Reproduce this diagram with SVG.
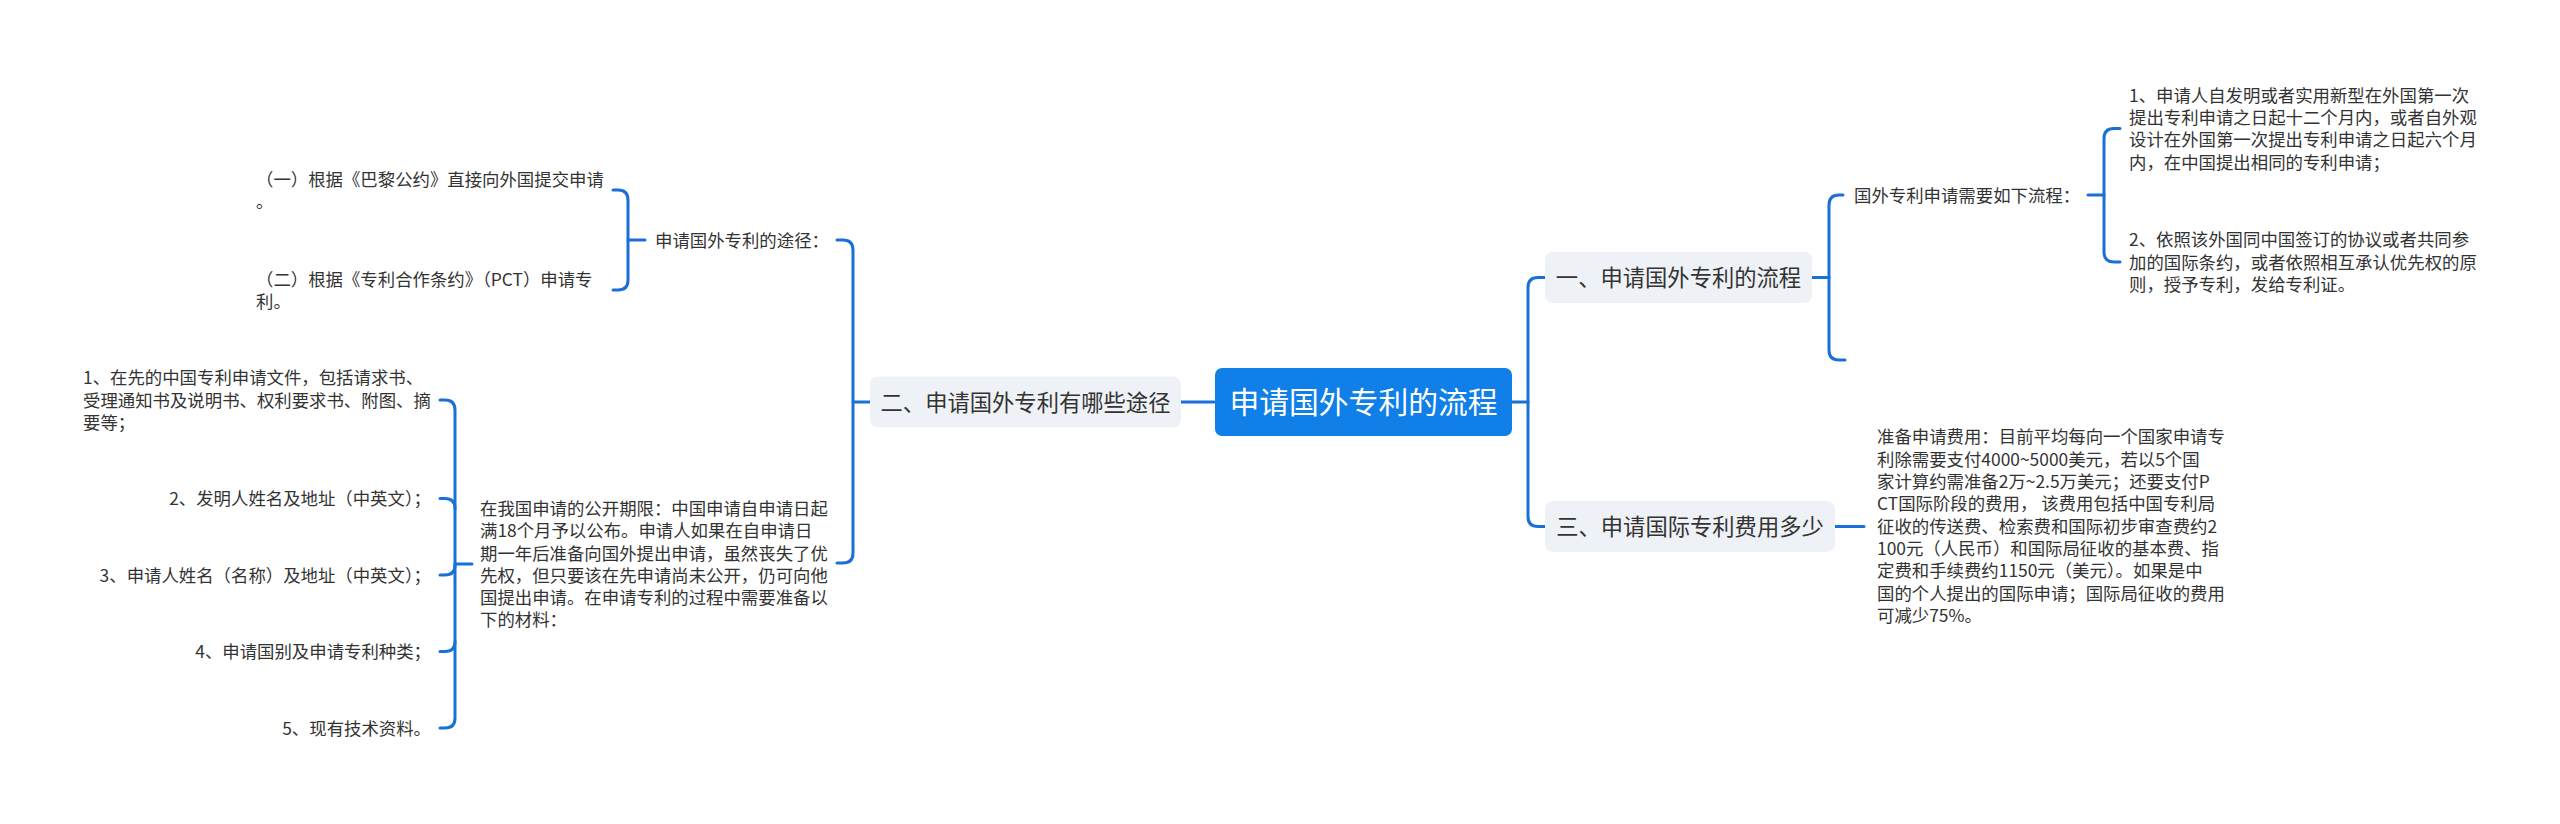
<svg xmlns="http://www.w3.org/2000/svg" width="2560" height="824" viewBox="0 0 2560 824">
<style>
text{font-family:"Noto Sans CJK SC","Microsoft YaHei",sans-serif;fill:#333333}
.root{font-size:29.8px;fill:#ffffff}
.br{font-size:22.3px}
.lf{font-size:17.4px}
.box{fill:#eef1f5}
.c{fill:none;stroke:#1a70d6;stroke-width:3;stroke-linecap:round;stroke-linejoin:round}
</style>
<rect width="2560" height="824" fill="#ffffff"/>
<g id="connectors">
<path class="c" d="M1512 402 H1528"/>
<path class="c" d="M1545 277.5 H1538 Q1528 277.5 1528 287.5 V516.5 Q1528 526.5 1538 526.5 H1545"/>
<path class="c" d="M1812 277.5 H1829"/>
<path class="c" d="M1843 195 H1839 Q1829 195 1829 205 V350 Q1829 360 1839 360 H1845"/>
<path class="c" d="M2088 195 H2104"/>
<path class="c" d="M2120 128.5 H2114 Q2104 128.5 2104 138.5 V252 Q2104 262 2114 262 H2120"/>
<path class="c" d="M1835 526.5 H1864"/>
<path class="c" d="M1214 402 H1181"/>
<path class="c" d="M870 402 H853"/>
<path class="c" d="M837 240 H843 Q853 240 853 250 V553 Q853 563 843 563 H837"/>
<path class="c" d="M645 240 H628"/>
<path class="c" d="M613 190 H618 Q628 190 628 200 V280 Q628 290 618 290 H613"/>
<path class="c" d="M472 564 H455"/>
<path class="c" d="M440 400 H445 Q455 400 455 410 V718 Q455 728 445 728 H440"/>
<path class="c" d="M440 498.5 H445 Q455 498.5 455 508.5"/>
<path class="c" d="M440 575 H445 Q455 575 455 565"/>
<path class="c" d="M440 651.5 H445 Q455 651.5 455 641.5"/>
</g>
<g id="root">
<rect x="1215" y="368" width="297" height="68" rx="7" fill="#1080e8"/>
<text class="root" x="1363.5" y="413" text-anchor="middle">申请国外专利的流程</text>
</g>
<g id="b1">
<rect class="box" x="1545" y="252" width="267" height="51" rx="8"/>
<text class="br" x="1678.5" y="286" text-anchor="middle">一、申请国外专利的流程</text>
</g>
<g id="b1-n1">
<text class="lf" x="1854" y="201.6">国外专利申请需要如下流程：</text>
</g>
<g id="b1-n1-l1">
<text class="lf" x="2129" y="101.7">1、申请人自发明或者实用新型在外国第一次</text>
<text class="lf" x="2129" y="124">提出专利申请之日起十二个月内，或者自外观</text>
<text class="lf" x="2129" y="146.3">设计在外国第一次提出专利申请之日起六个月</text>
<text class="lf" x="2129" y="168.6">内，在中国提出相同的专利申请；</text>
</g>
<g id="b1-n1-l2">
<text class="lf" x="2129" y="246.3">2、依照该外国同中国签订的协议或者共同参</text>
<text class="lf" x="2129" y="268.6">加的国际条约，或者依照相互承认优先权的原</text>
<text class="lf" x="2129" y="290.9">则，授予专利，发给专利证。</text>
</g>
<g id="b3">
<rect class="box" x="1545" y="501" width="290" height="51" rx="8"/>
<text class="br" x="1690" y="535" text-anchor="middle">三、申请国际专利费用多少</text>
</g>
<g id="b3-l1">
<text class="lf" x="1877" y="443.4">准备申请费用：目前平均每向一个国家申请专</text>
<text class="lf" x="1877" y="465.7">利除需要支付4000~5000美元，若以5个国</text>
<text class="lf" x="1877" y="488">家计算约需准备2万~2.5万美元；还要支付P</text>
<text class="lf" x="1877" y="510.3">CT国际阶段的费用， 该费用包括中国专利局</text>
<text class="lf" x="1877" y="532.6">征收的传送费、检索费和国际初步审查费约2</text>
<text class="lf" x="1877" y="554.9">100元（人民币）和国际局征收的基本费、指</text>
<text class="lf" x="1877" y="577.2">定费和手续费约1150元（美元）。如果是中</text>
<text class="lf" x="1877" y="599.5">国的个人提出的国际申请；国际局征收的费用</text>
<text class="lf" x="1877" y="621.8">可减少75%。</text>
</g>
<g id="b2">
<rect class="box" x="870" y="376.5" width="311" height="51" rx="8"/>
<text class="br" x="1025.5" y="410.5" text-anchor="middle">二、申请国外专利有哪些途径</text>
</g>
<g id="b2-n1">
<text class="lf" x="655" y="246.6">申请国外专利的途径：</text>
</g>
<g id="b2-n1-l1">
<text class="lf" x="256" y="186">（一）根据《巴黎公约》直接向外国提交申请</text>
<text class="lf" x="256" y="208.3">。</text>
</g>
<g id="b2-n1-l2">
<text class="lf" x="256" y="285.5">（二）根据《专利合作条约》（PCT）申请专</text>
<text class="lf" x="256" y="307.8">利。</text>
</g>
<g id="b2-n2">
<text class="lf" x="480" y="514.9">在我国申请的公开期限：中国申请自申请日起</text>
<text class="lf" x="480" y="537.2">满18个月予以公布。申请人如果在自申请日</text>
<text class="lf" x="480" y="559.5">期一年后准备向国外提出申请，虽然丧失了优</text>
<text class="lf" x="480" y="581.8">先权，但只要该在先申请尚未公开，仍可向他</text>
<text class="lf" x="480" y="604.1">国提出申请。在申请专利的过程中需要准备以</text>
<text class="lf" x="480" y="626.4">下的材料：</text>
</g>
<g id="b2-n2-l1">
<text class="lf" x="83" y="384.3">1、在先的中国专利申请文件，包括请求书、</text>
<text class="lf" x="83" y="406.6">受理通知书及说明书、权利要求书、附图、摘</text>
<text class="lf" x="83" y="428.9">要等；</text>
</g>
<g id="b2-n2-l2"><text class="lf" x="431" y="505.1" text-anchor="end">2、发明人姓名及地址（中英文）；</text></g>
<g id="b2-n2-l3"><text class="lf" x="431" y="581.6" text-anchor="end">3、申请人姓名（名称）及地址（中英文）；</text></g>
<g id="b2-n2-l4"><text class="lf" x="431" y="658.1" text-anchor="end">4、申请国别及申请专利种类；</text></g>
<g id="b2-n2-l5"><text class="lf" x="431" y="734.6" text-anchor="end">5、现有技术资料。</text></g>
</svg>
